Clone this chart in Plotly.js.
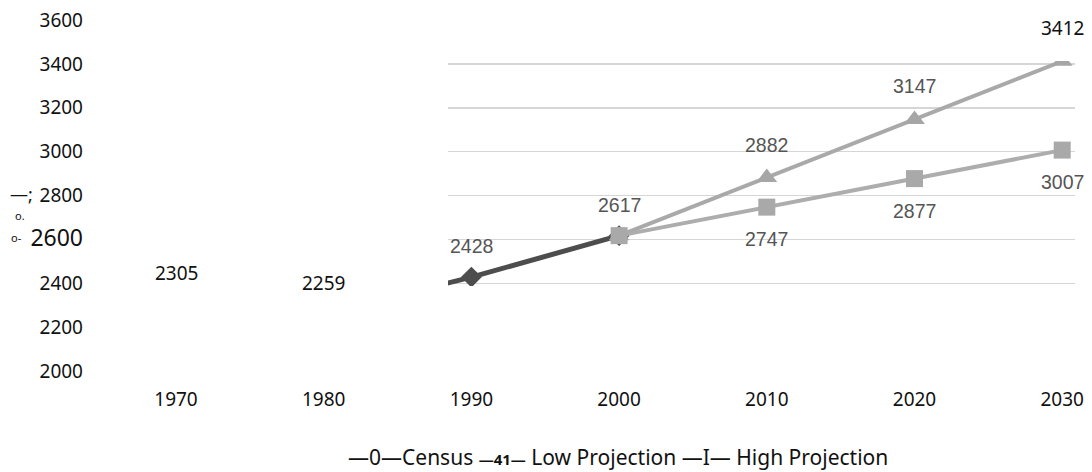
<!DOCTYPE html>
<html><head><meta charset="utf-8">
<script src="https://cdn.plot.ly/plotly-3.0.1.min.js"></script>
<style>html,body{margin:0;padding:0;background:#fff}#chart{width:1092px;height:472px}</style>
</head><body><div id="chart"></div>
<script>
// ---- data ----
const years = [1970, 1980, 1990, 2000, 2010, 2020, 2030];
const yTicks = [2000, 2200, 2400, 2600, 2800, 3000, 3200, 3400, 3600];
const censusYears = [1970, 1980, 1990, 2000];
const censusValues = [2305, 2259, 2428, 2617];
const projYears = [2000, 2010, 2020, 2030];
const lowValues = [2617, 2747, 2877, 3007];
const highValues = [2617, 2882, 3147, 3412];
const legendParts = ['\u20140\u2014Census', '\u201441\u2014', 'Low Projection', '\u2014I\u2014', 'High Projection'];
const axisNoise = ['\u2014;', 'o.', 'o-'];

// ---- geometry (pixels) ----
const W = 1092, H = 472, L = 90, R = 10, T = 20, B = 101;
const plotW = W - L - R, plotH = H - T - B;
const x0px = 176, pxPerYear = 14.77;
const px2year = p => 1970 + (p - x0px) / pxPerYear;
const yBottomPx = H - B, pxPerUnit = plotH / 1600;
const py2val = y => 2000 + (yBottomPx - y) / pxPerUnit;
const inset = {x0: 448, x1: 1075, y0: 61, y1: 286};
const px2paper = p => (p - L) / plotW;
const py2paper = y => (yBottomPx - y) / plotH;

const tickFont = {family: 'Noto Sans, DejaVu Sans, sans-serif', size: 19, color: '#111111'};
const scanFont = {family: 'Liberation Sans, Arial, sans-serif', size: 19.5, color: '#555555'};

const traces = [
  {x: censusYears, y: censusValues, xaxis: 'x', yaxis: 'y', mode: 'lines', opacity: 0,
   line: {width: 0}, hoverinfo: 'skip', showlegend: false},
  {x: censusYears, y: censusValues, xaxis: 'x2', yaxis: 'y2', mode: 'lines+markers', name: 'Census',
   line: {color: '#4d4d4d', width: 5}, marker: {symbol: 'diamond', size: 16, color: '#4d4d4d'}},
  {x: projYears, y: highValues, xaxis: 'x2', yaxis: 'y2', mode: 'lines+markers', name: 'High Projection',
   line: {color: '#a9a9a9', width: 4}, marker: {symbol: 'triangle-up', size: 18, color: '#a6a6a6'}},
  {x: projYears, y: lowValues, xaxis: 'x2', yaxis: 'y2', mode: 'lines+markers', name: 'Low Projection',
   line: {color: '#adadad', width: 4}, marker: {symbol: 'square', size: 17, color: '#a9a9a9'}}
];

const ann = [];
function label(x, y, shift, font) {
  ann.push({x: x, y: y, xref: 'x', yref: 'y', text: String(y), showarrow: false, yshift: shift,
    xanchor: 'center', yanchor: 'middle', font: font});
}
censusYears.forEach((yr, i) => label(yr, censusValues[i], 31, yr < 1990 ? tickFont : scanFont));
projYears.forEach((yr, i) => { if (i > 0) label(yr, highValues[i], 33, yr === 2030 ? tickFont : scanFont); });
projYears.forEach((yr, i) => { if (i > 0) label(yr, lowValues[i], -32, scanFont); });

function paperText(px, py, text, size) {
  ann.push({xref: 'paper', yref: 'paper', x: px2paper(px), y: py2paper(py), xanchor: 'center', yanchor: 'middle',
    showarrow: false, text: text, font: {family: tickFont.family, size: size, color: '#111111'}});
}
// legend as OCR'd text
paperText(618, 457, legendParts[0] + ' <span style="font-size:15px"><b>' + legendParts[1] + '</b></span> ' +
  legendParts[2] + ' ' + legendParts[3] + ' ' + legendParts[4], 21);
// stray axis-title fragments
paperText(21, 194, axisNoise[0], 18);
paperText(20, 215, axisNoise[1], 11);
paperText(16, 237, axisNoise[2], 11);

const layout = {
  width: W, height: H, margin: {l: L, r: R, t: T, b: B},
  paper_bgcolor: '#fff', plot_bgcolor: 'rgba(0,0,0,0)', showlegend: false,
  xaxis: {range: [px2year(L), px2year(W - R)], tickvals: years, ticktext: years.map(String),
    showgrid: false, zeroline: false, showline: false, ticks: '', tickfont: tickFont, ticklabelstandoff: 15},
  yaxis: {range: [2000, 3600], tickvals: yTicks,
    ticktext: yTicks.map(v => v === 2600 ? '<span style="font-size:23px">' + v + '</span>' : String(v)),
    showgrid: false, zeroline: false, showline: false, ticks: '', tickfont: tickFont, ticklabelstandoff: 6},
  xaxis2: {domain: [px2paper(inset.x0), px2paper(inset.x1)], range: [px2year(inset.x0), px2year(inset.x1)],
    anchor: 'y2', showgrid: false, zeroline: false, showline: false, showticklabels: false, ticks: ''},
  yaxis2: {domain: [py2paper(inset.y1), py2paper(inset.y0)], range: [py2val(inset.y1), py2val(inset.y0)],
    anchor: 'x2', showgrid: true, gridcolor: '#d6d6d6', gridwidth: 1.5, tick0: 2000, dtick: 200,
    zeroline: false, showline: false, showticklabels: false, ticks: ''},
  annotations: ann
};
Plotly.newPlot('chart', traces, layout, {staticPlot: true, displayModeBar: false});
</script></body></html>
